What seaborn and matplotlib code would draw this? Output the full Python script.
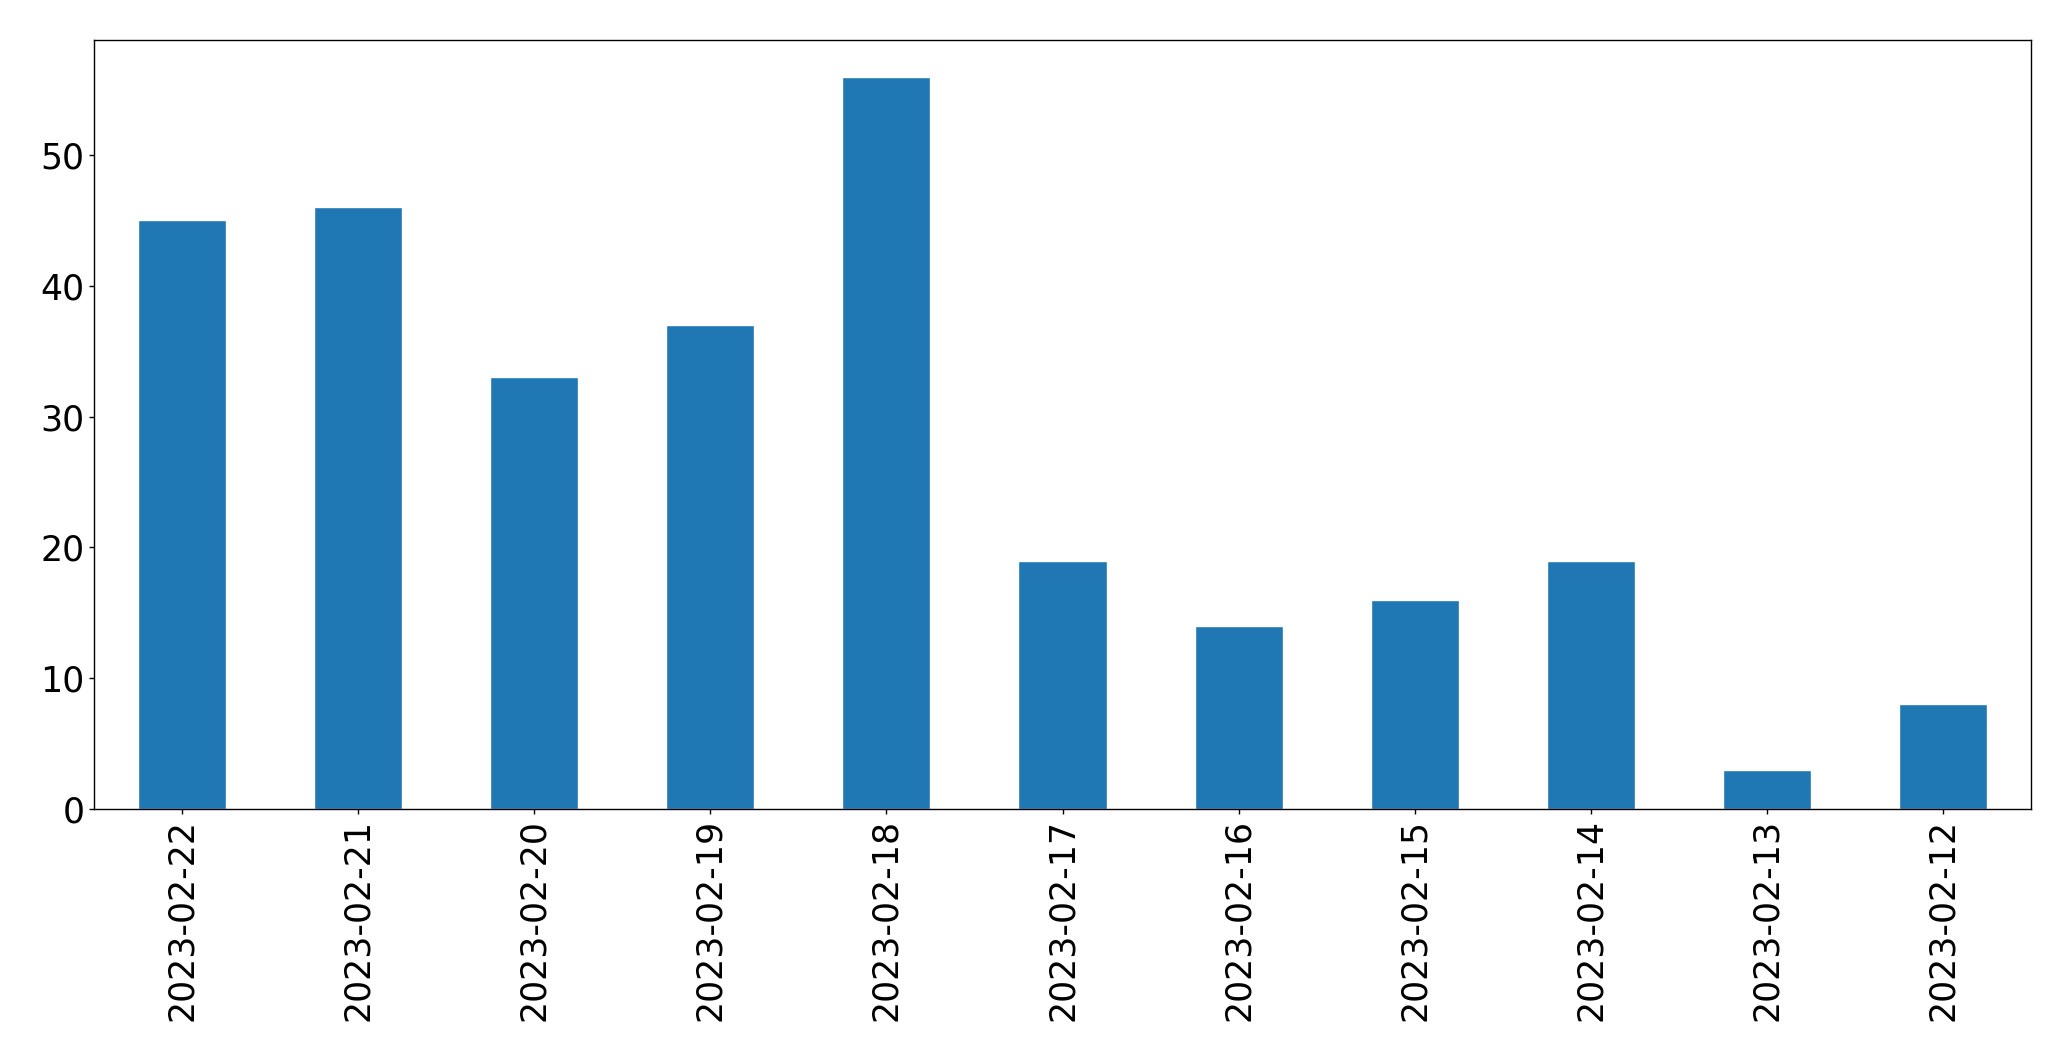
import matplotlib
matplotlib.use("Agg")
import matplotlib.pyplot as plt
import seaborn as sns
import pandas as pd

dates = ["2023-02-22", "2023-02-21", "2023-02-20", "2023-02-19", "2023-02-18",
         "2023-02-17", "2023-02-16", "2023-02-15", "2023-02-14", "2023-02-13",
         "2023-02-12"]
counts = [45, 46, 33, 37, 56, 19, 14, 16, 19, 3, 8]

df = pd.DataFrame({"date": dates, "count": counts})

sns.set_style("ticks")
plt.rcParams["font.family"] = ["DejaVu Sans"]

fig = plt.figure(figsize=(20.71, 10.61), dpi=100)
ax = fig.add_axes([94 / 2071, 1 - 809 / 1061, (2031 - 94) / 2071, (809 - 40) / 1061])
sns.barplot(data=df, x="date", y="count", order=dates, color="#1f77b4",
            saturation=1, width=0.5, ax=ax)
ax.set_xlim(-0.5, len(dates) - 0.5)
ax.set_ylim(0, max(counts) * 1.05)
ax.set_xlabel("")
ax.set_ylabel("")
ax.tick_params(axis="both", labelsize=25, length=3.5, width=1, pad=3.5,
               color="black", labelcolor="black")
ax.tick_params(axis="x", labelrotation=90)
for s in ax.spines.values():
    s.set_visible(True)
    s.set_color("black")
    s.set_linewidth(1)
fig.savefig("out.png", dpi=100)
